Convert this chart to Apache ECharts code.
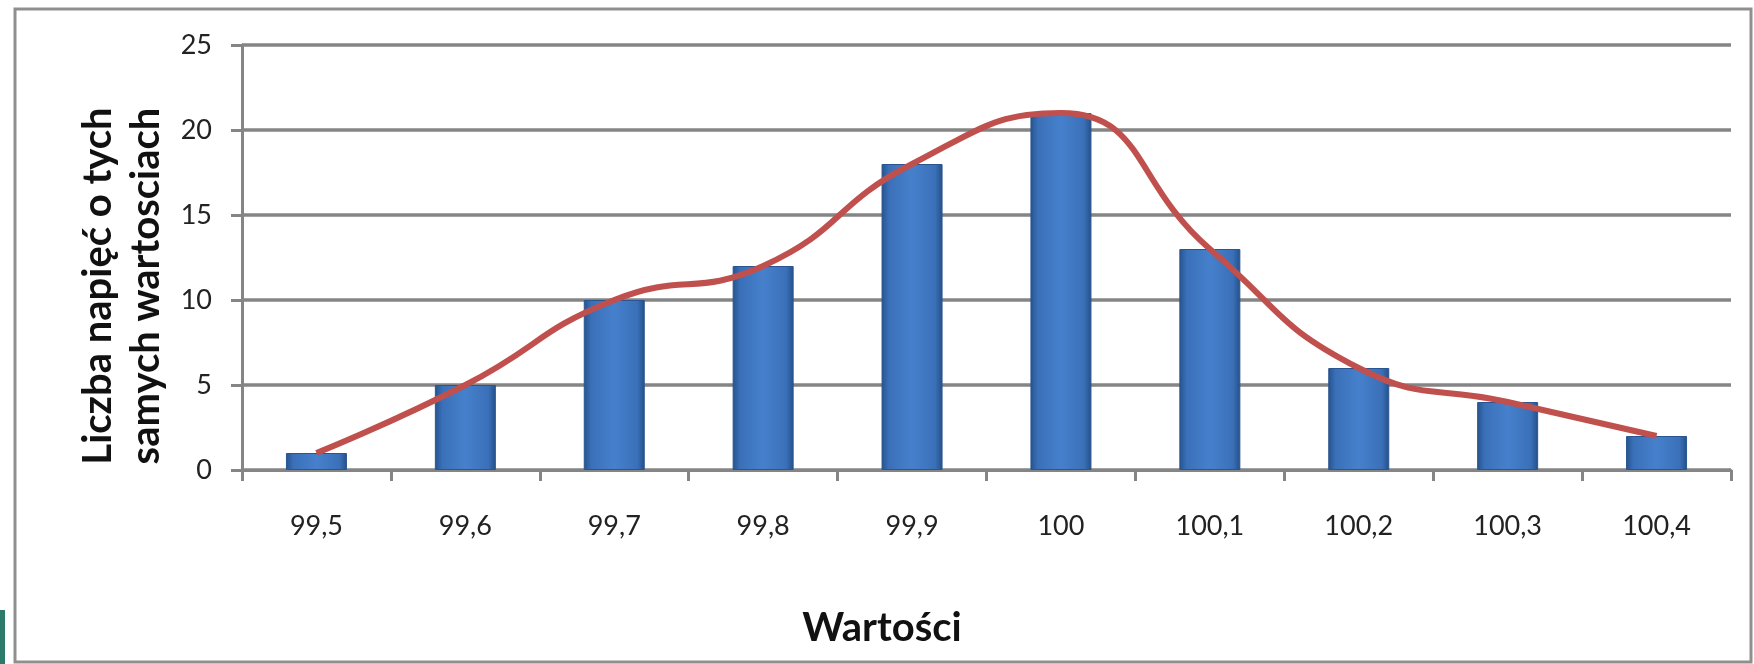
<!DOCTYPE html>
<html>
<head>
<meta charset="utf-8">
<script src="https://cdn.jsdelivr.net/npm/echarts@6/dist/echarts.min.js"></script>
<style>
html,body{margin:0;padding:0;background:#fff;}
#chart{width:1754px;height:664px;}
</style>
</head>
<body>
<div id="chart"></div>
<script>
const categories = ['99,5','99,6','99,7','99,8','99,9','100','100,1','100,2','100,3','100,4'];
const counts = [1, 5, 10, 12, 18, 21, 13, 6, 4, 2];
const trend = [1, 5, 10, 12, 18, 21, 13, 6, 4, 2];
const yMin = 0, yMax = 25, yStep = 5;
const xTitle = 'Wartości';
const yTitle = 'Liczba napięć o tych\nsamych wartosciach';

const gridColor = '#858585';
const chart = echarts.init(document.getElementById('chart'), null, {renderer: 'canvas'});
const barGrad = new echarts.graphic.LinearGradient(0, 0, 1, 0, [
  {offset: 0, color: '#25528c'},
  {offset: 0.12, color: '#3a70b8'},
  {offset: 0.5, color: '#4680cc'},
  {offset: 0.88, color: '#3a70b8'},
  {offset: 1, color: '#244f88'}
]);
chart.setOption({
  animation: false,
  backgroundColor: '#ffffff',
  grid: {left: 242, right: 23, top: 45, bottom: 194, containLabel: false},
  xAxis: {
    type: 'category',
    data: categories,
    boundaryGap: true,
    axisLine: {show: true, lineStyle: {color: gridColor, width: 3}},
    axisTick: {show: true, length: 11, lineStyle: {color: gridColor, width: 3}},
    axisLabel: {margin: 43, fontSize: 27, color: '#222', fontFamily: 'Lato'},
    splitLine: {show: false}
  },
  yAxis: {
    type: 'value',
    min: yMin, max: yMax, interval: yStep,
    axisLine: {show: true, lineStyle: {color: gridColor, width: 3}},
    axisTick: {show: true, length: 11, lineStyle: {color: gridColor, width: 3}},
    axisLabel: {margin: 30, fontSize: 27, color: '#222', fontFamily: 'Lato'},
    splitLine: {show: true, lineStyle: {color: gridColor, width: 3.5}}
  },
  series: [
    {
      type: 'bar',
      data: counts,
      barWidth: 61,
      itemStyle: {color: barGrad, borderColor: '#2a5590', borderWidth: 1},
      z: 2
    },
    {
      type: 'line',
      data: trend,
      smooth: 0.5,
      symbol: 'none',
      lineStyle: {color: '#c0504d', width: 6},
      z: 3
    }
  ],
  graphic: [
    {type: 'rect', shape: {x: 15, y: 9, width: 1736, height: 653}, style: {fill: 'none', stroke: '#8f8f8f', lineWidth: 3}, silent: true, z: -1},
    {type: 'rect', shape: {x: 0, y: 610, width: 5, height: 54}, style: {fill: '#2b7a6a'}, silent: true},
    {type: 'text', x: 882, y: 628, style: {text: xTitle, font: 'bold 40px Lato', fill: '#111', textAlign: 'center', textVerticalAlign: 'middle'}},
    {type: 'text', x: 122, y: 286, rotation: Math.PI / 2, style: {text: yTitle, font: 'bold 40px Lato', fill: '#111', textAlign: 'center', textVerticalAlign: 'middle', lineHeight: 48}}
  ]
});
</script>
</body>
</html>
